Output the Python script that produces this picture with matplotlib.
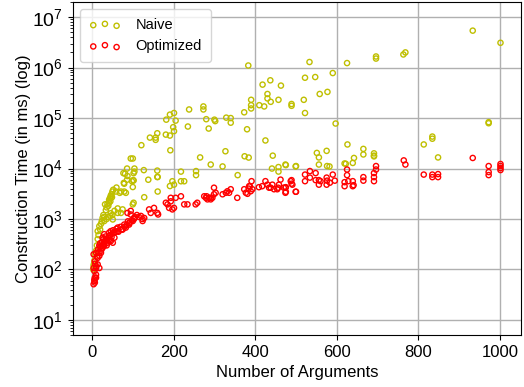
import matplotlib
matplotlib.use("Agg")
import matplotlib.pyplot as plt

plt.rcParams["font.family"] = ["Liberation Sans", "DejaVu Sans"]
plt.rcParams["mathtext.fontset"] = "cm"

# ---------------------------------------------------------------------------
# Data (x = number of arguments, y = time in ms)
# ---------------------------------------------------------------------------
naive_x = [
    383, 418, 437, 463, 430, 430, 438, 457, 390, 390, 390, 410, 422, 489, 489,
    373, 380, 425, 443, 374, 384, 441, 457, 457, 474, 500, 357, 327, 320, 291,
    265, 255, 255, 218, 192, 160, 160, 127, 104, 104, 86, 81, 86, 101, 138,
    95, 100, 121, 142, 156, 156, 160, 181, 191, 199, 201, 182, 191, 201, 205,
    235, 238, 273, 273, 280, 286, 300, 302, 329, 340, 340,
    533, 625, 696, 696, 763, 768, 933, 1001, 522, 547, 590, 558, 577, 519,
    522, 597, 972, 972, 834, 834, 813, 848, 626, 665, 665, 691, 691, 691,
    642, 639, 619, 622, 551, 556, 575, 556, 576, 582, 475, 499,
    77, 102, 161, 60, 79, 98, 100, 68, 79, 83, 49, 45, 32, 40, 63, 75, 102,
    100, 128, 161, 45, 51, 26, 30, 14, 18, 191, 201, 197, 218, 226, 55, 63, 71,
    46, 42, 59, 71, 87, 102, 78,
    3, 4, 5, 6, 8, 10, 12, 14, 16, 20, 22, 24, 28, 34, 36, 38, 42, 44, 46,
    48, 50, 52, 46, 50, 40, 36, 30,
]
naive_y = [
    1.1e6, 4.6e5, 5.6e5, 4.4e5, 3.0e5, 2.45e5, 2.1e5, 2.3e5, 2.3e5, 1.8e5,
    1.55e5, 1.8e5, 1.7e5, 1.9e5, 1.75e5,
    1.3e5, 6.0e4, 3.6e4, 1.8e4, 1.75e4, 1.65e4, 1.0e4, 1.07e4, 8700, 1.2e4,
    1.12e4, 7400, 2.2e4, 1.1e4, 1.2e4,
    1.66e4, 8900, 7400, 8700, 2.3e4, 9100, 6800, 9300, 1.0e4, 8700, 1.0e4,
    7900, 6000, 5900, 6000,
    1.58e4, 1.58e4, 2.9e4, 4.1e4, 4.1e4, 3.7e4, 5.0e4, 4.7e4, 4.5e4, 6.6e4,
    5.5e4, 9.3e4, 1.17e5, 1.26e5, 8.9e4,
    6.8e4, 1.48e5, 1.7e5, 1.48e5, 9.5e4, 6.2e4, 9.3e4, 8.7e4, 1.02e5, 1.0e5,
    8.1e4,
    1.29e6, 1.23e6, 1.66e6, 1.51e6, 1.82e6, 2.0e6, 5.4e6, 3.1e6, 6.3e5, 6.5e5,
    7.8e5, 3.0e5, 3.3e5, 2.3e5,
    1.26e5, 7.8e4, 7.9e4, 8.3e4, 4.3e4, 3.9e4, 3.0e4, 1.66e4, 3.0e4, 2.45e4,
    1.9e4, 2.0e4, 1.74e4, 1.8e4,
    1.62e4, 1.29e4, 1.26e4, 1.24e4, 2.04e4, 1.66e4, 2.24e4, 1.2e4, 1.12e4,
    1.1e4, 1.17e4, 1.1e4,
    8100, 8100, 6800, 4200, 5000, 5600, 4300, 3300, 3500, 3300, 2700, 2240,
    1950, 1820, 1620, 1550, 2100,
    1950, 2700, 3500, 1150, 980, 1050, 910, 575, 720, 4500, 4800, 5600, 5600,
    5600, 1450, 1320, 1320,
    2700, 2100, 3500, 3500, 7100, 5800, 5200,
    100, 120, 130, 150, 200, 235, 300, 400, 480, 620, 800, 900, 1200, 1500,
    1700, 2000, 2400, 2600, 2900,
    3100, 3500, 3800, 1300, 1200, 1100, 1000, 1100,
]

opt_x = [
    4, 6, 7, 10, 6, 10, 4, 10, 18, 22, 14, 7, 30, 38, 26, 30, 42, 46, 55, 51,
    63, 75, 83, 91, 100, 103, 95, 87, 95, 120, 124, 128, 140, 144, 152, 160,
    162, 181, 185, 193, 189, 201, 197, 193, 205, 218, 226, 234, 258, 254, 275,
    279, 283, 291, 299, 299, 303, 320, 328, 340, 336, 356, 373, 377, 385, 389,
    393, 391, 409, 417, 425, 430, 438, 442, 454, 458, 470, 487, 491, 499, 462,
    7, 6, 10, 14, 10, 4, 18, 22, 26, 30, 34, 42, 46, 55, 63, 75, 79, 91, 103,
    124,
    15, 18, 20, 25, 28, 33, 35, 40, 45, 50, 52, 58, 60, 65, 70, 72, 80, 85, 88,
    92, 98, 105, 110, 115, 12, 8, 16, 24, 36, 44, 48, 20, 27, 32,
    281, 287, 291, 295, 332, 384, 387, 381, 434, 446, 456, 474, 474,
    475, 475, 489, 489, 500, 522, 522, 534, 534, 548, 548, 556, 556, 560, 575,
    575, 576, 583, 590, 595, 619, 619, 625, 625, 628, 639, 641, 639, 665, 665,
    691, 691, 691, 696, 696, 764, 768, 813, 834, 834, 848, 848, 933, 972, 972,
    972, 1001, 1001, 1001, 1001,
]
opt_y = [
    51, 59, 69, 79, 93, 107, 200, 214, 186, 234, 170, 145, 316, 339, 427, 500,
    537, 363, 427, 339,
    575, 617, 676, 776, 912, 1050, 1230, 1320, 1450, 1150, 912, 1050, 1550,
    1320, 1660, 1320,
    1230, 2100, 1950, 2240, 1660, 1660, 1550, 2630, 2630, 2820, 1950, 1950,
    2100, 1950, 2820,
    2630, 2450, 2630, 3090, 4170, 3310, 3090, 3310, 3890, 3310, 2630, 3890,
    3310, 4470, 3550,
    3890, 5620, 4270, 4470, 5620, 4790, 4170, 4790, 3890, 4790, 4170, 5620,
    4790, 3470, 6030,
    55, 63, 69, 126, 115, 107, 107, 214, 269, 295, 398, 457, 575, 537, 676,
    631, 776, 832, 1000,
    1000,
    250, 300, 280, 350, 400, 450, 380, 420, 480, 520, 600, 560, 640, 560, 700,
    620, 700, 760, 900,
    850, 950, 1100, 1200, 1100, 180, 130, 220, 260, 300, 380, 440, 330, 310,
    360,
    2820, 2630, 2450, 2630, 3550, 4000, 4470, 3160, 4170, 3890, 4170, 4170,
    3310,
    4270, 3470, 5890, 5010, 3470, 7590, 5620, 8910, 6610, 8130, 5890, 5890,
    4790, 5620, 6610,
    4790, 5750, 5250, 7590, 5750, 5370, 4470, 9550, 7410, 5620, 5620, 4680,
    4470, 6760, 5750,
    8130, 6760, 5620, 1.12e4, 9550, 1.45e4, 1.2e4, 7590, 7590, 6760, 7760,
    6760, 1.62e4, 1.12e4, 8510,
    7410, 1.23e4, 1.12e4, 1.02e4, 9330,
]

fig, ax = plt.subplots(figsize=(5.24, 3.87), dpi=100)
fig.subplots_adjust(left=0.139, right=0.994, bottom=0.134, top=0.995)

ax.scatter(naive_x, naive_y, s=14, facecolors="none", edgecolors="y",
           linewidths=1.0, label="Naive", zorder=3)
ax.scatter(opt_x, opt_y, s=14, facecolors="none", edgecolors="r",
           linewidths=1.0, label="Optimized", zorder=3)

ax.set_yscale("log")
ax.set_ylim(5, 2e7)
ax.set_xticks([0, 200, 400, 600, 800, 1000])
ax.tick_params(axis="x", labelsize=12)
ax.tick_params(axis="y", labelsize=14)
ax.set_xlabel("Number of Arguments", fontsize=12)
ax.set_ylabel("Construction Time (in ms) (log)", fontsize=12, labelpad=1)
ax.grid(True, color="#b0b0b0", linewidth=1.0)
ax.set_axisbelow(True)
ax.legend(loc="upper left", scatterpoints=3, fontsize=10.5,
          handlelength=2.2, handletextpad=1.0, borderpad=0.6)

fig.savefig("out.png", dpi=100)
